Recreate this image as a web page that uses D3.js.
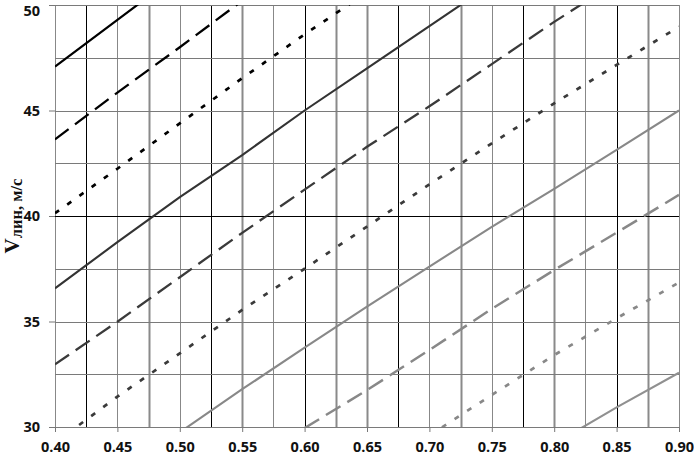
<!DOCTYPE html>
<html><head><meta charset="utf-8">
<script src="https://cdn.jsdelivr.net/npm/d3@7/dist/d3.min.js"></script>
<style>
body{margin:0;background:#fff;}
svg{display:block;}
.tick text{font-family:"Open Sans",sans-serif;font-weight:bold;font-size:14.5px;fill:#111;}
</style></head>
<body><svg id="c" width="694" height="460"></svg>
<script>
// x positions where values were read
const xValues = [0.40,0.45,0.50,0.55,0.60,0.65,0.70,0.75,0.80,0.85,0.90];
const xTicks = [0.40,0.45,0.50,0.55,0.60,0.65,0.70,0.75,0.80,0.85,0.90];
const yTicks = [30,35,40,45,50];
// series (null = outside the chart)
const s1  = [47.08,49.30,51.50,null,null,null,null,null,null,null,null];
const s2  = [43.63,45.85,48.00,50.20,52.30,null,null,null,null,null,null];
const s3  = [40.13,42.24,44.39,46.53,48.61,50.60,null,null,null,null,null];
const s4  = [36.57,38.76,40.89,42.89,45.00,47.00,49.00,51.00,null,null,null];
const s5  = [32.97,34.99,37.10,39.20,41.25,43.28,45.20,47.20,49.20,51.10,null];
const s6  = [29.25,31.44,33.49,35.55,37.50,39.50,41.50,43.44,45.34,47.16,48.97];
const s7  = [null,null,29.75,31.79,33.76,35.70,37.60,39.49,41.29,43.13,45.00];
const s8  = [null,null,null,null,29.95,31.75,33.65,35.60,37.44,39.21,41.00];
const s9  = [null,null,null,null,null,null,29.60,31.52,33.41,35.15,36.85];
const s10 = [null,null,null,null,null,null,null,null,29.20,30.93,32.57];
const series = [s1,s2,s3,s4,s5,s6,s7,s8,s9,s10];

const W=694,H=460, m={l:55,r:15,t:5,b:33};
const svg=d3.select("#c");
const x=d3.scaleLinear().domain([0.40,0.90]).range([m.l,W-m.r]);
const y=d3.scaleLinear().domain([30,50]).range([H-m.b,m.t]);

// grid
const vGrid=d3.range(0,21).map(i=>0.40+i*0.025);
const vTone=["#888","#000","#888","#8a8a8a","#888","#000","#8a8a8a","#888","#000","#8a8a8a","#8a8a8a","#000","#888","#8a8a8a","#888","#000","#8a8a8a","#888","#000","#8a8a8a","#888"];
const vWide=[1,1,1,2,1,1,2,1,1,2,2,1,1,2,1,1,2,1,1,2,1];
svg.append("g").selectAll("line").data(vGrid).join("line")
  .attr("x1",d=>Math.round(x(d))+0.5).attr("x2",d=>Math.round(x(d))+0.5)
  .attr("y1",y(50)).attr("y2",y(30))
  .attr("stroke",(d,i)=>vTone[i]).attr("stroke-width",(d,i)=>vWide[i]);
const hGrid=d3.range(0,9).map(i=>30+i*2.5);
svg.append("g").selectAll("line").data(hGrid).join("line")
  .attr("x1",x(0.40)).attr("x2",x(0.90))
  .attr("y1",d=>Math.round(y(d))+0.5).attr("y2",d=>Math.round(y(d))+0.5)
  .attr("stroke",d=>d===40?"#000":"#7a7a7a").attr("stroke-width",1);

// axes
const xAxis=d3.axisBottom(x).tickValues(xTicks).tickFormat(d3.format(".2f")).tickSize(5).tickPadding(10);
const gx=svg.append("g").attr("transform",`translate(0,${y(30)})`).call(xAxis);
gx.select(".domain").remove();
gx.selectAll(".tick line").attr("stroke","#777");
const yAxis=d3.axisLeft(y).tickValues(yTicks).tickFormat(d3.format("d")).tickSize(6).tickPadding(9);
const gy=svg.append("g").attr("transform",`translate(${x(0.40)},0)`).call(yAxis);
gy.select(".domain").remove();
gy.selectAll(".tick line").attr("stroke","#777");
gy.selectAll(".tick text").filter(d=>d===50).attr("dy","0.72em");

// lines
svg.append("clipPath").attr("id","clip").append("rect")
  .attr("x",x(0.40)).attr("y",y(50)).attr("width",x(0.90)-x(0.40)).attr("height",y(30)-y(50));
const styles=[
  {c:"#000",d:null,w:2.2},{c:"#000",d:"17,8",w:2.3},{c:"#000",d:"5,10",w:2.7},
  {c:"#333",d:null,w:2.1},{c:"#3a3a3a",d:"17,8",w:2.3},{c:"#3a3a3a",d:"5,10",w:2.7},
  {c:"#888",d:null,w:2.1},{c:"#888",d:"17,8",w:2.5},{c:"#888",d:"5,10",w:2.7},{c:"#909090",d:null,w:2.1}
];
const line=d3.line().defined(d=>d[1]!==null).x(d=>x(d[0])).y(d=>y(d[1]));
svg.append("g").attr("clip-path","url(#clip)").selectAll("path").data(series).join("path")
  .attr("d",s=>line(s.map((v,i)=>[xValues[i],v])))
  .attr("fill","none")
  .attr("stroke",(s,i)=>styles[i].c)
  .attr("stroke-width",(s,i)=>styles[i].w)
  .attr("stroke-dasharray",(s,i)=>styles[i].d);

// y title
const t=svg.append("text").attr("transform",`translate(19,${(y(30)+y(50))/2}) rotate(-90)`)
  .attr("text-anchor","middle").attr("font-family","'Liberation Serif','Times New Roman',serif")
  .attr("font-weight","bold").attr("fill","#111");
t.append("tspan").attr("font-size","21px").text("V");
t.append("tspan").attr("font-size","16.5px").attr("dy","3").text("лин, м/с");
</script></body></html>
